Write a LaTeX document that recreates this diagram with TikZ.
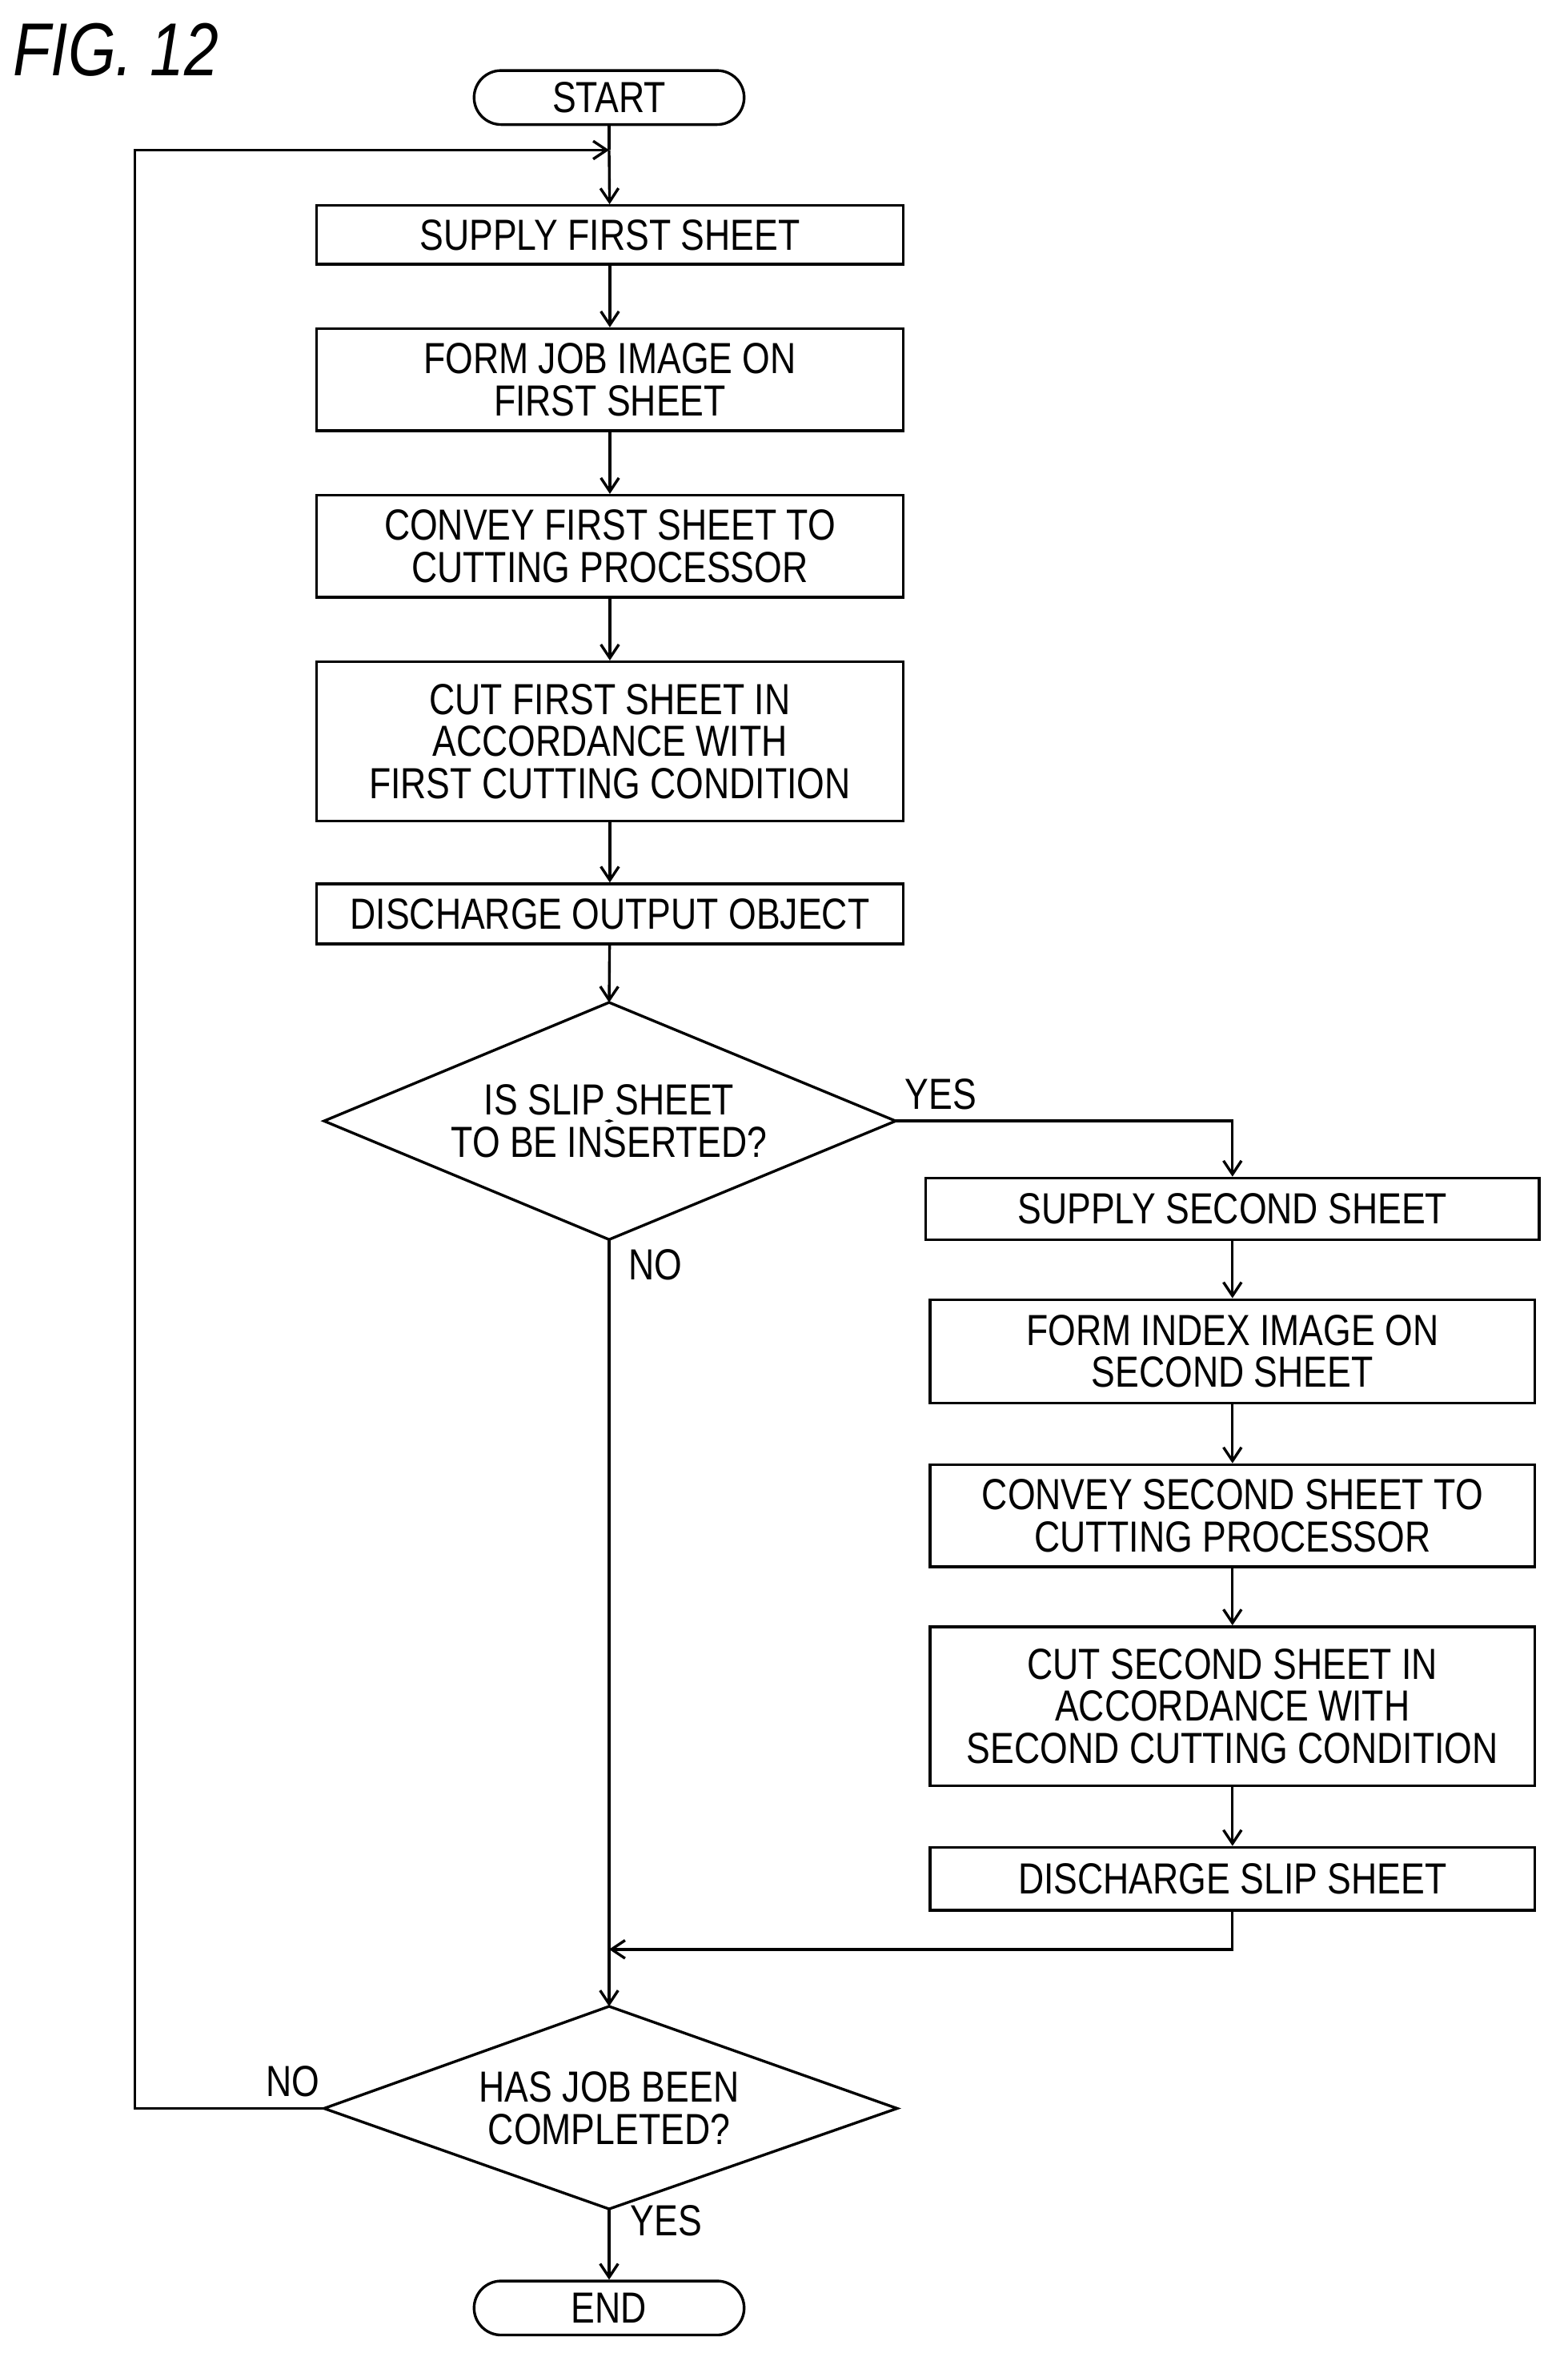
\documentclass[tikz,border=0pt]{standalone}
\usepackage{fontspec}
\setmainfont{Liberation Sans}[FakeStretch=0.82]
\usetikzlibrary{shapes.geometric,arrows.meta}
\begin{document}
\begin{tikzpicture}[x=1pt,y=-1pt,line width=1.8pt,
  every node/.style={font=\fontsize{29}{28}\selectfont,align=center,inner sep=0pt},
  box/.style={draw},
  term/.style={draw,rounded corners=18pt},
  dia/.style={draw,diamond,aspect=2.4},
  arr/.style={-{Straight Barb[length=9pt,width=12pt]}},
  sq/.style={line width=1.3pt}]
\useasboundingbox (0,0) rectangle (1045,1568);
\node[font=\itshape\fontsize{50}{50}\selectfont,anchor=west] (fig) at (8,33) {FIG. 12};
\node[term,minimum width=180pt,minimum height=36pt] (start) at (406,65) {START};
\node[box,minimum width=391pt,minimum height=39pt] (s1) at (406.5,156.5) {SUPPLY FIRST SHEET};
\node[box,minimum width=391pt,minimum height=68pt] (s2) at (406.5,253) {FORM JOB IMAGE ON\\FIRST SHEET};
\node[box,minimum width=391pt,minimum height=68pt] (s3) at (406.5,364) {CONVEY FIRST SHEET TO\\CUTTING PROCESSOR};
\node[box,minimum width=391pt,minimum height=106pt] (s4) at (406.5,494) {CUT FIRST SHEET IN\\ACCORDANCE WITH\\FIRST CUTTING CONDITION};
\node[box,minimum width=391pt,minimum height=40pt] (s5) at (406.5,609) {DISCHARGE OUTPUT OBJECT};
\node[draw,diamond,minimum width=0,inner sep=0] (s6) at (406,747) {};
\path[draw] (216,747) coordinate (s6w) -- (406,668) coordinate (s6n) -- (597,747) coordinate (s6e) -- (406,826) coordinate (s6s) -- cycle;
\node (s6t) at (406,747) {IS SLIP SHEET\\TO BE INSERTED?};
\node[box,minimum width=409pt,minimum height=41pt] (s7) at (821.5,805.5) {SUPPLY SECOND SHEET};
\node[box,minimum width=403pt,minimum height=69pt] (s31) at (821.5,900.5) {FORM INDEX IMAGE ON\\SECOND SHEET};
\node[box,minimum width=403pt,minimum height=68pt] (s8) at (821.5,1010) {CONVEY SECOND SHEET TO\\CUTTING PROCESSOR};
\node[box,minimum width=403pt,minimum height=106pt] (s9) at (821.5,1137) {CUT SECOND SHEET IN\\ACCORDANCE WITH\\SECOND CUTTING CONDITION};
\node[box,minimum width=403pt,minimum height=42pt] (s10) at (821.5,1252) {DISCHARGE SLIP SHEET};
\path[draw] (216,1405) coordinate (s11w) -- (406,1337) coordinate (s11n) -- (598,1405) coordinate (s11e) -- (406,1472) coordinate (s11s) -- cycle;
\node (s11t) at (406,1405) {HAS JOB BEEN\\COMPLETED?};
\node[term,minimum width=180pt,minimum height=36pt] (end) at (406,1538) {END};
% connectors
\coordinate (loop) at (406,100);
\draw (start) -- (loop);
\draw[arr] (loop) -- (s1);
\draw[arr] (s1) -- (s2);
\draw[arr] (s2) -- (s3);
\draw[arr] (s3) -- (s4);
\draw[arr] (s4) -- (s5);
\draw[arr] (s5) -- (s6n);
\draw[arr] (s6e) -| (s7);
\draw[arr] (s7) -- (s31);
\draw[arr] (s31) -- (s8);
\draw[arr] (s8) -- (s9);
\draw[arr] (s9) -- (s10);
\coordinate (join) at (406,1299);
\draw[arr] (s10.south) |- (join);
\draw[arr] (s6s) -- (s11n);
\draw[arr] (s11s) -- (end);
\draw[arr] (s11w) -- (90,1405) -- (90,100) -- (loop);
\node (yes1) at (627,729) {YES};
\node (no1) at (437,843) {NO};
\node (no2) at (195,1387) {NO};
\node (yes2) at (444,1480) {YES};
% step labels
\newcommand\stepl[4]{\node (#1) at (#2,#3) {#4};
 \draw[sq] ($(#2,#3)+(-50,14)$) .. controls ($(#2,#3)+(-35,2)$) and ($(#2,#3)+(-30,16)$) .. ($(#2,#3)+(-15,3)$);}
\end{tikzpicture}
\end{document}
